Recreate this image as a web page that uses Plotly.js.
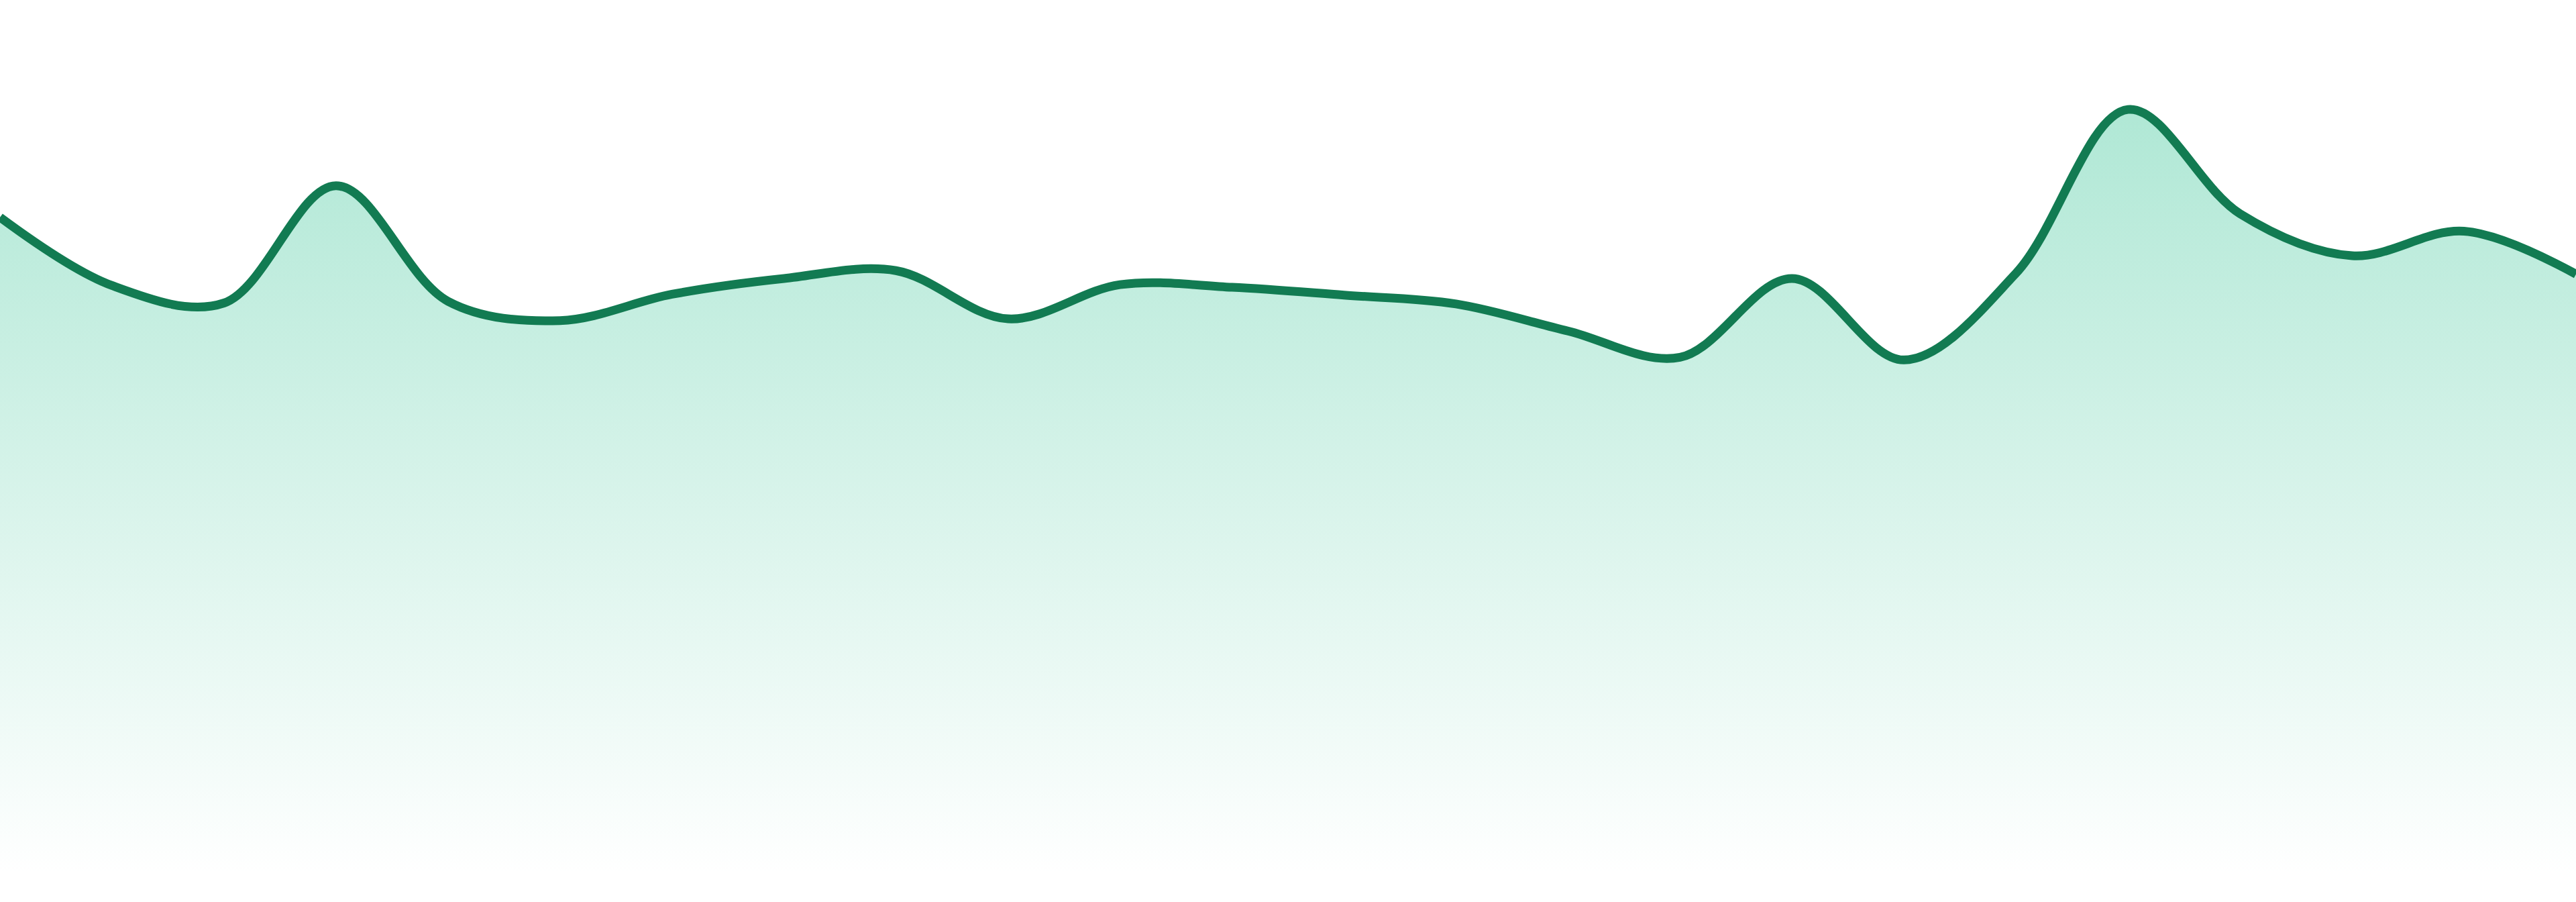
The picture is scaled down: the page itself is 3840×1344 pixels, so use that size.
<!DOCTYPE html>
<html>
<head>
<meta charset="utf-8">
<script src="https://cdn.plot.ly/plotly-3.0.1.min.js"></script>
<style>
html,body{margin:0;padding:0;background:#ffffff;overflow:hidden;}
#chart{width:3840px;height:1344px;}
</style>
</head>
<body>
<div id="chart"></div>
<script>
// Categories (24 evenly spaced periods)
const periods = [0,1,2,3,4,5,6,7,8,9,10,11,12,13,14,15,16,17,18,19,20,21,22,23];
// Series values
const values = [75.2,67.4,65.4,78.8,65.6,63.4,66.4,68.2,69.1,63.6,67.5,67.2,
                66.3,65.3,62.2,59.2,68.2,58.9,68.8,87.5,75.6,70.8,73.6,68.7];

const trace = {
  x: periods,
  y: values,
  type: 'scatter',
  mode: 'lines',
  line: {color: '#127b52', width: 13, shape: 'spline', smoothing: 1},
  fill: 'tozeroy',
  fillgradient: {
    type: 'vertical',
    start: 0,
    stop: 100,
    colorscale: [[0, 'rgba(16,185,129,0.0)'], [1, 'rgba(16,185,129,0.38)']]
  },
  hoverinfo: 'skip'
};

const layout = {
  width: 3840,
  height: 1344,
  margin: {l: 0, r: 0, t: 0, b: 39, pad: 0},
  paper_bgcolor: '#ffffff',
  plot_bgcolor: '#ffffff',
  showlegend: false,
  xaxis: {range: [0, 23], visible: false, fixedrange: true},
  yaxis: {range: [0, 100], visible: false, fixedrange: true}
};

Plotly.newPlot('chart', [trace], layout, {displayModeBar: false, staticPlot: true});
</script>
</body>
</html>
